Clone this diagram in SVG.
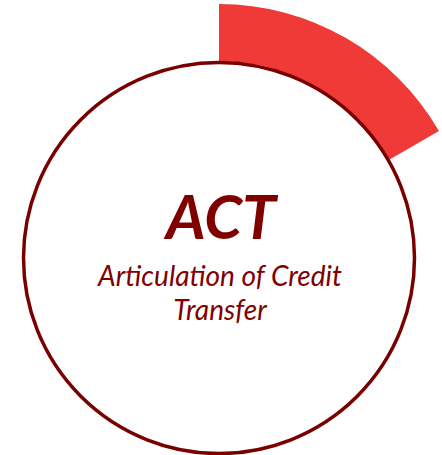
<svg xmlns="http://www.w3.org/2000/svg" width="442" height="455" viewBox="0 0 442 455">
<style>
.t{font-family:Lato,"Open Sans","Liberation Sans",sans-serif;font-style:italic;fill:#800000;text-anchor:middle}
</style>
<rect width="442" height="455" fill="#fff"/>
<g id="arc">
<path d="M219 4 A254 254 0 0 1 438.97 131 L389.6 159.5 A197 197 0 0 0 219 61 Z" fill="#EF3A37"/>
</g>
<g id="circle">
<circle cx="219" cy="258" r="195.5" fill="none" stroke="#7A0000" stroke-width="3.5"/>
</g>
<g id="label">
<text class="t" x="221" y="239" font-size="61" font-weight="bold">ACT</text>
<text class="t" x="220" y="286" font-size="28">Articulation of Credit</text>
<text class="t" x="220" y="320" font-size="28">Transfer</text>
</g>
</svg>
